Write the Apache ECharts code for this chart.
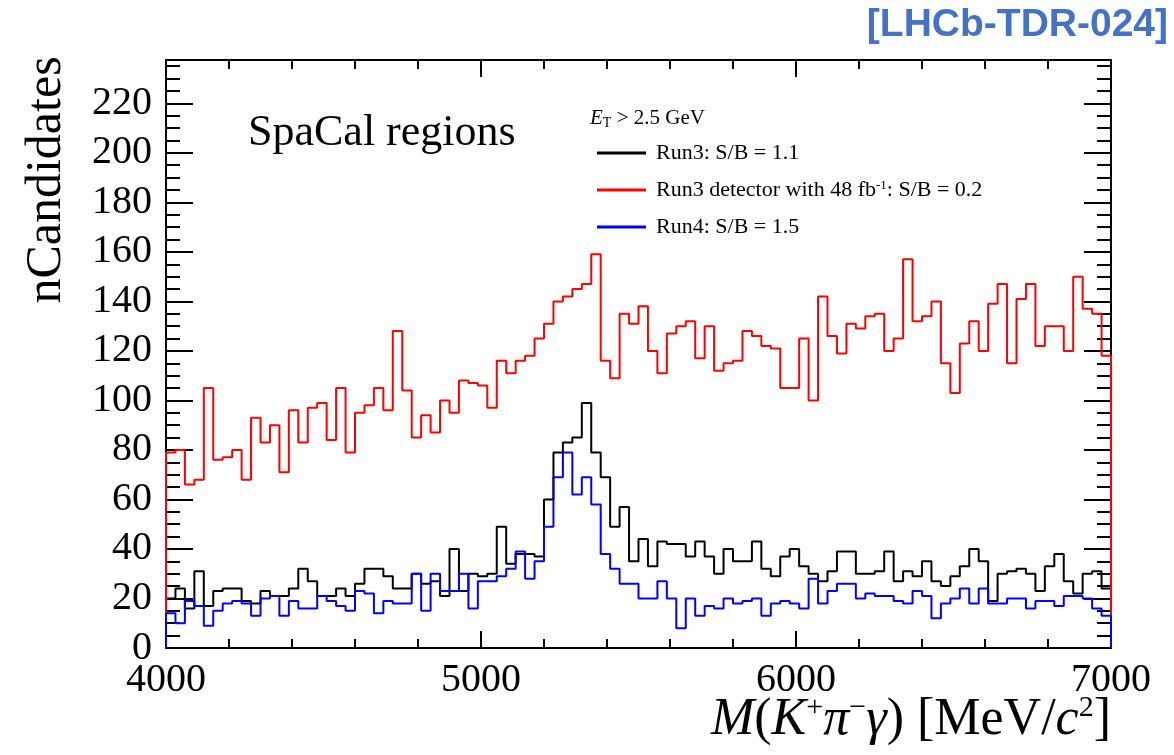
<!DOCTYPE html>
<html>
<head>
<meta charset="utf-8">
<script src="https://cdn.jsdelivr.net/npm/echarts@6/dist/echarts.min.js"></script>
<style>html,body{margin:0;padding:0;background:#fff}#c{width:1174px;height:755px}</style>
</head>
<body>
<div id="c"></div>
<script>
// ---- data ----
const X_MIN = 4000, X_MAX = 7000, BIN_WIDTH = 30;
const Y_MAX = 237.5;
const xTicks = [4000, 5000, 6000, 7000];
const yTicks = [0, 20, 40, 60, 80, 100, 120, 140, 160, 180, 200, 220];

const seriesNames = ['Run3: S/B = 1.1', 'Run3 detector with 48 fb-1: S/B = 0.2', 'Run4: S/B = 1.5'];

const run3 = [20,24,16,31,17,23,24,24,19,18, 23,21,21,24,32,27,21,21,24,21,
              26,32,32,29,24,24,30,26,27,21, 40,23,30,29,30,49,34,38,38,37,
              60,79,83,85,99,79,69,49,57,35, 44,33,43,42,42,37,43,37,30,40,
              35,35,43,32,29,37,40,33,30,27, 31,39,39,30,30,31,39,27,31,29,
              35,27,25,29,33,40,35,19,30,31, 32,30,23,33,38,27,22,30,31,24];

const run3Lumi = [79,80,66,68,105,76,77,80,68,93, 83,90,71,96,83,97,99,84,105,79,
                  95,98,105,96,128,104,85,94,87,100, 95,108,107,106,97,116,111,116,118,125,
                  131,140,142,145,147,159,116,109,135,131, 138,120,111,127,130,132,117,130,112,115,
                  116,128,126,122,121,105,105,125,100,142, 126,119,131,129,134,135,120,125,157,132,
                  134,140,115,103,123,132,120,139,147,115, 141,147,122,130,130,120,150,137,135,118];

const run4 = [14,10,19,17,9,15,18,19,18,13, 20,21,13,19,16,16,21,19,17,15,
              23,22,14,19,18,18,30,15,30,23, 23,30,16,27,27,29,32,39,28,35,
              49,69,79,62,69,58,38,32,26,26, 20,20,27,20,8,20,13,17,16,20,
              18,19,20,13,18,19,18,16,28,18, 23,26,26,20,22,21,21,19,18,23,
              21,12,18,20,24,18,24,18,18,20, 20,16,19,19,17,21,21,20,16,13];

const colors = ['#000000', '#ff0000', '#0000ff'];

function histPoints(vals) {
  const pts = [[X_MIN, 0]];
  vals.forEach((v, i) => {
    const lo = X_MIN + i * BIN_WIDTH;
    pts.push([lo, v], [lo + BIN_WIDTH, v]);
  });
  pts.push([X_MAX, 0]);
  return pts;
}

const SERIF = '"Liberation Serif", "Times New Roman", serif';
const chart = echarts.init(document.getElementById('c'), null, {renderer: 'canvas'});

const tickLine = {color: '#000', width: 2};
function xAx(pos, labels) {
  return {
    type: 'value', min: X_MIN, max: X_MAX, interval: 1000, position: pos,
    axisLine: {show: true, onZero: false, lineStyle: tickLine},
    axisTick: {show: true, inside: true, length: 17, lineStyle: tickLine},
    minorTick: {show: true, splitNumber: 5, length: 9, lineStyle: tickLine},
    splitLine: {show: false}, minorSplitLine: {show: false},
    axisLabel: labels ? {show: true, margin: 12, color: '#000', fontSize: 40, fontFamily: SERIF,
      formatter: v => (xTicks.indexOf(v) >= 0 ? String(v) : '')} : {show: false}
  };
}
function yAx(pos, interval, len, line, labels) {
  return {
    type: 'value', min: 0, max: Y_MAX, interval: interval, position: pos,
    axisLine: {show: line, onZero: false, lineStyle: tickLine},
    axisTick: {show: true, inside: true, length: len, lineStyle: tickLine},
    splitLine: {show: false},
    axisLabel: labels ? {show: true, margin: 14, color: '#000', fontSize: 40, fontFamily: SERIF,
      showMaxLabel: false,
      formatter: v => (yTicks.indexOf(v) >= 0 ? String(v) : '')} : {show: false}
  };
}

const legendRich = {
  sup: {fontSize: 13, fontFamily: SERIF, color: '#000', verticalAlign: 'top', lineHeight: 12}
};

chart.setOption({
  animation: false,
  backgroundColor: '#fff',
  grid: {left: 166, right: 63, top: 60, bottom: 107, containLabel: false},
  xAxis: [xAx('bottom', true), xAx('top', false)],
  yAxis: [yAx('left', 20, 27, true, true), yAx('left', 5, 14, false, false),
          yAx('right', 20, 27, true, false), yAx('right', 5, 14, false, false)],
  legend: {
    show: true, orient: 'vertical', left: 597, top: 142, padding: 0,
    itemWidth: 49, itemHeight: 3, itemGap: 15, icon: 'rect',
    selectedMode: false,
    data: seriesNames,
    formatter: n => n.replace('fb-1', 'fb{sup|-1}'),
    textStyle: {fontFamily: SERIF, fontSize: 22, color: '#000', lineHeight: 22,
      padding: [0, 0, 0, 5], rich: legendRich}
  },
  series: [run3, run3Lumi, run4].map((vals, i) => ({
    name: seriesNames[i], type: 'line', data: histPoints(vals),
    xAxisIndex: 0, yAxisIndex: 0,
    symbol: 'none', showSymbol: false, clip: true,
    lineStyle: {color: colors[i], width: 2}, itemStyle: {color: colors[i]},
    emphasis: {disabled: true}, silent: true, z: 2 + i
  })),
  graphic: [
    {type: 'text', right: 6, top: 6, style: {text: '[LHCb-TDR-024]',
      font: 'bold 39px "Liberation Sans", Arial, sans-serif', fill: '#4472c4'}},
    {type: 'text', x: 248, y: 133, style: {text: 'SpaCal regions',
      font: '44px ' + SERIF, fill: '#000', align: 'left', verticalAlign: 'middle'}},
    {type: 'text', x: 590, y: 118, style: {
      text: '{e|E}{sub|T}{n| > 2.5 GeV}', align: 'left', verticalAlign: 'middle',
      rich: {
        e: {fontFamily: SERIF, fontStyle: 'italic', fontSize: 21, fill: '#000', lineHeight: 24},
        sub: {fontFamily: SERIF, fontSize: 14, fill: '#000', verticalAlign: 'bottom', lineHeight: 14},
        n: {fontFamily: SERIF, fontSize: 21, fill: '#000', lineHeight: 24}
      }}},
    {type: 'text', x: 47, y: 180, rotation: Math.PI / 2, style: {text: 'nCandidates',
      font: '50px ' + SERIF, fill: '#000', align: 'center', verticalAlign: 'middle'}},
    {type: 'text', x: 1111, y: 720, style: {
      text: '{i|M}{n|(}{i|K}{sup|+}{i|π}{sup|−}{i|γ}{n|) [MeV/}{i|c}{sup|2}{n|]}',
      align: 'right', verticalAlign: 'middle',
      rich: {
        i: {fontFamily: SERIF, fontStyle: 'italic', fontSize: 52, fill: '#000', lineHeight: 54},
        n: {fontFamily: SERIF, fontSize: 52, fill: '#000', lineHeight: 54},
        sup: {fontFamily: SERIF, fontSize: 30, fill: '#000', verticalAlign: 'top', lineHeight: 34}
      }}}
  ]
});
</script>
</body>
</html>
